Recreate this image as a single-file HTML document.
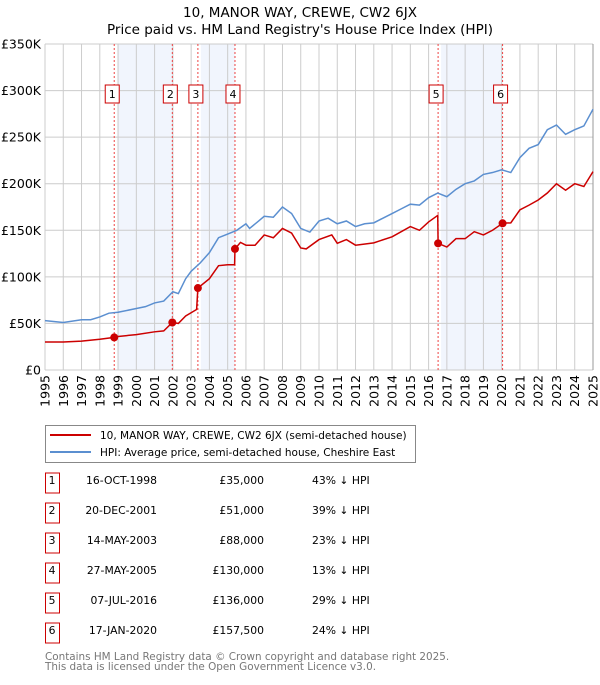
<!DOCTYPE html>
<html><head><meta charset="utf-8"><style>
body{margin:0;background:#fff;font-family:"Liberation Sans","DejaVu Sans",sans-serif;}
svg text{font-family:"DejaVu Sans","Liberation Sans",sans-serif;}
</style></head><body>
<svg id="chart" width="600" height="680" viewBox="0 0 600 680" xmlns="http://www.w3.org/2000/svg">
<text x="300" y="17" text-anchor="middle" font-size="13.5" fill="#000">10, MANOR WAY, CREWE, CW2 6JX</text>
<text x="300" y="34" text-anchor="middle" font-size="13.5" fill="#000">Price paid vs. HM Land Registry's House Price Index (HPI)</text>
<g id="shade"></g><g id="grid"></g><g id="vlines"></g><g id="series"></g><g id="marks"></g><g id="axes"></g>
<g>
<rect x="45.5" y="425.5" width="370" height="37" fill="#fff" stroke="#888" stroke-width="1"/>
<line x1="50" y1="435" x2="91" y2="435" stroke="#cc0000" stroke-width="2"/>
<text x="100" y="439" font-size="10.5">10, MANOR WAY, CREWE, CW2 6JX (semi-detached house)</text>
<line x1="50" y1="452" x2="91" y2="452" stroke="#5b8fd0" stroke-width="2"/>
<text x="100" y="456" font-size="10.5">HPI: Average price, semi-detached house, Cheshire East</text>
</g>
<g id="table"></g>
<text x="45" y="660" font-size="10.4" fill="#777">Contains HM Land Registry data © Crown copyright and database right 2025.</text>
<text x="45" y="670" font-size="10.4" fill="#777">This data is licensed under the Open Government Licence v3.0.</text>
</svg>
<script>
const hpiYears=[1995,1996,1997,1997.5,1998,1998.5,1999,2000,2000.5,2001,2001.5,2002,2002.3,2002.7,2003,2003.5,2004,2004.5,2005,2005.5,2006,2006.2,2006.7,2007,2007.5,2008,2008.5,2009,2009.5,2010,2010.5,2011,2011.5,2012,2012.5,2013,2013.5,2014,2014.5,2015,2015.5,2016,2016.5,2017,2017.5,2018,2018.5,2019,2019.5,2020,2020.5,2021,2021.5,2022,2022.5,2023,2023.5,2024,2024.5,2025];
const hpiValues=[53,51,54,54,57,61,62,66,68,72,74,84,82,98,106,115,126,142,146,150,157,152,160,165,164,175,168,152,148,160,163,157,160,154,157,158,163,168,173,178,177,185,190,186,194,200,203,210,212,215,212,228,238,242,258,263,253,258,262,280];
const priceYears=[1995,1996,1997,1998,1998.79,1999,2000,2001,2001.5,2001.97,2002.3,2002.7,2003.3,2003.37,2004,2004.5,2005,2005.38,2005.40,2005.7,2006,2006.5,2007,2007.5,2008,2008.5,2009,2009.3,2010,2010.7,2011,2011.5,2012,2013,2014,2015,2015.5,2016,2016.5,2016.52,2017,2017.5,2018,2018.5,2019,2019.5,2020.05,2020.5,2021,2021.5,2022,2022.5,2023,2023.5,2024,2024.5,2025];
const priceValues=[30,30,31,33,35,36,38,41,42,51,50,58,65,88,98,112,113,113,130,137,134,134,145,142,152,147,131,130,140,145,136,140,134,136.5,143,154,150,159,166,136,132,141,141,148.5,145,150,157.5,158,172,177,182.5,190,200,193,200,197,213];
const saleLabels=["1","2","3","4","5","6"];
const saleYears=[1998.79,2001.97,2003.37,2005.40,2016.52,2020.05];
const saleValues=[35,51,88,130,136,157.5];
const saleDates=["16-OCT-1998","20-DEC-2001","14-MAY-2003","27-MAY-2005","07-JUL-2016","17-JAN-2020"];
const salePrices=["£35,000","£51,000","£88,000","£130,000","£136,000","£157,500"];
const salePct=["43% ↓ HPI","39% ↓ HPI","23% ↓ HPI","13% ↓ HPI","29% ↓ HPI","24% ↓ HPI"];
const yTicks=[0,50,100,150,200,250,300,350];
const yTickLabels=["£0","£50K","£100K","£150K","£200K","£250K","£300K","£350K"];
const xTicks=[1995,1996,1997,1998,1999,2000,2001,2002,2003,2004,2005,2006,2007,2008,2009,2010,2011,2012,2013,2014,2015,2016,2017,2018,2019,2020,2021,2022,2023,2024,2025];

const NS="http://www.w3.org/2000/svg";
const X0=45,X1=593,Y0=370,Y1=44;
const xs=y=>X0+(y-1995)/30*(X1-X0);
const ys=v=>Y0-v/350*(Y0-Y1);
function mk(tag,attrs,parent){const e=document.createElementNS(NS,tag);for(const k in attrs)e.setAttribute(k,attrs[k]);document.getElementById(parent).appendChild(e);return e;}

for(let i=0;i<saleYears.length;i+=2){
 const r=mk('rect',{x:xs(saleYears[i])+3,y:Y1,width:xs(saleYears[i+1])-xs(saleYears[i])-3,height:Y0-Y1,fill:'#eef3fc',opacity:0.8},'shade');
 
 
}
xTicks.forEach(t=>{
 const l=mk('line',{x1:xs(t),x2:xs(t),y1:Y1,y2:Y0,stroke:'#cccccc','stroke-width':1},'grid');
 
 
 const tx=mk('text',{x:0,y:0,transform:`translate(${xs(t)+4.5},${Y0+5}) rotate(-90)`,'text-anchor':'end','font-size':12.5,fill:'#000'},'axes');
 tx.textContent=t;
 
 
});
yTicks.forEach((t,i)=>{
 const l=mk('line',{x1:X0,x2:X1,y1:ys(t),y2:ys(t),stroke:'#cccccc','stroke-width':1},'grid');
 
 
 const tx=mk('text',{x:X0-4,y:ys(t)+4.5,'text-anchor':'end','font-size':12.5,fill:'#000'},'axes');
 tx.textContent=yTickLabels[i];
 
 
});
const rb=mk('line',{x1:X1,x2:X1,y1:Y1,y2:Y0,stroke:'#999','stroke-width':1},'grid');


saleYears.forEach((y,i)=>{
 const l=mk('line',{x1:xs(y),x2:xs(y),y1:Y1,y2:Y0,stroke:'#ee4444','stroke-width':1,'stroke-dasharray':'2,2'},'vlines');
 
 
 const b=mk('rect',{x:xs(y)-9,y:85,width:14,height:18,fill:'#fff',stroke:'#cc0000','stroke-width':1},'marks');
 
 
 const t=mk('text',{x:xs(y)-2,y:98,'text-anchor':'middle','font-size':11,fill:'#000'},'marks');
 t.textContent=saleLabels[i];
 
 
 const c=mk('circle',{cx:xs(y),cy:ys(saleValues[i]),r:4,fill:'#cc0000'},'marks');
 
 
});
const hp=mk('polyline',{points:hpiYears.map((y,i)=>xs(y)+','+ys(hpiValues[i])).join(' '),fill:'none',stroke:'#5b8fd0','stroke-width':1.5},'series');


const pp=mk('polyline',{points:priceYears.map((y,i)=>xs(y)+','+ys(priceValues[i])).join(' '),fill:'none',stroke:'#cc0000','stroke-width':1.5},'series');



saleLabels.forEach((s,i)=>{
 const cy=483+i*30;
 const b=mk('rect',{x:45.5,y:cy-10,width:14,height:20,fill:'#fff',stroke:'#cc0000','stroke-width':1},'table');
 
 
 const vals=[[52,s,'middle'],[157,saleDates[i],'end'],[264,salePrices[i],'end'],[312,salePct[i],'start']];
 vals.forEach(v=>{
  const t=mk('text',{x:v[0],y:cy+1,'text-anchor':v[2],'font-size':10.8,fill:'#000'},'table');
  t.textContent=v[1];
  
  
 });
});
</script>
</body></html>
